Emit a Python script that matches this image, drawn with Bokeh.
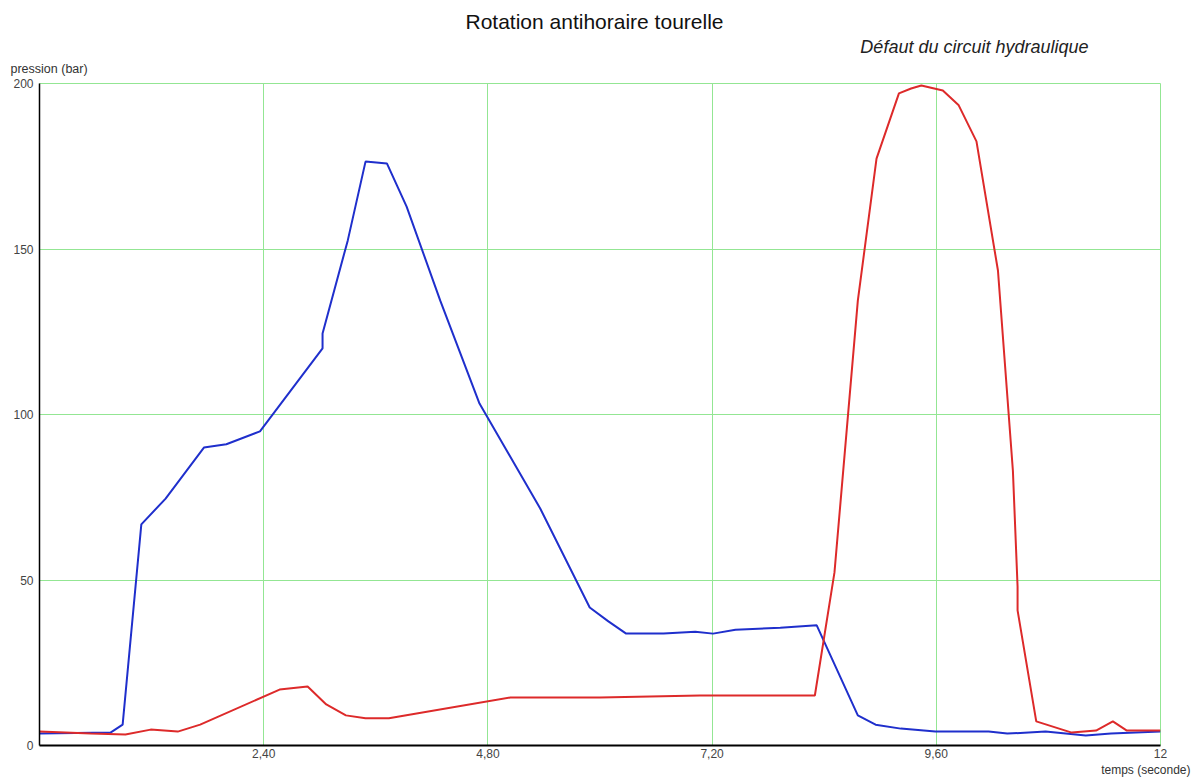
from bokeh.plotting import figure
from bokeh.models import Range1d, FixedTicker, Title
from bokeh.embed import file_html
from bokeh.resources import INLINE

# Data (time in seconds, pressure in bar)
blue_t = [0, 0.76, 0.89, 1.09, 1.35, 1.76, 2.0, 2.36, 3.03, 3.03, 3.30, 3.49, 3.72, 3.93,
          4.29, 4.71, 5.36, 5.89, 6.09, 6.28, 6.68, 7.02, 7.21, 7.45, 7.93, 8.32, 8.76,
          8.95, 9.22, 9.59, 10.16, 10.36, 10.77, 11.2, 11.47, 12.0]
blue_p = [3.6, 3.9, 6.3, 66.8, 74.6, 90, 91, 94.9, 120, 124.5, 152.6, 176.4, 175.8, 162.8,
          134.4, 103.3, 71.6, 41.7, 37.5, 33.8, 33.8, 34.4, 33.8, 35, 35.6, 36.3, 9.1,
          6.3, 5.1, 4.2, 4.2, 3.6, 4.2, 3.0, 3.6, 4.2]

red_t = [0, 0.55, 0.92, 1.19, 1.48, 1.72, 2.57, 2.87, 3.07, 3.28, 3.49, 3.74, 5.04, 6.0,
         7.07, 8.30, 8.51, 8.76, 8.96, 9.20, 9.33, 9.44, 9.67, 9.84, 10.03, 10.26, 10.42,
         10.47, 10.47, 10.67, 11.05, 11.31, 11.49, 11.64, 12.0]
red_p = [4.2, 3.6, 3.3, 4.8, 4.2, 6.3, 16.9, 17.8, 12.4, 9.1, 8.2, 8.2, 14.5, 14.5,
         15.1, 15.1, 52.3, 134.4, 177.3, 197, 198.5, 199.4, 197.9, 193.4, 182.5, 143.5, 83,
         48, 40.8, 7.3, 3.9, 4.5, 7.3, 4.5, 4.5]

x_ticks = [2.4, 4.8, 7.2, 9.6, 12]
x_tick_labels = ["2,40", "4,80", "7,20", "9,60", "12"]
y_ticks = [0, 50, 100, 150, 200]

title_text = "Rotation antihoraire tourelle"
subtitle_text = "Défaut du circuit hydraulique"
y_label = "pression (bar)"
x_label = "temps (seconde)"

FONT = "Liberation Sans"
GRID = "#93e693"

p = figure(width=1192, height=778, output_backend="svg", toolbar_location=None,
           x_range=Range1d(0, 12), y_range=Range1d(0, 200),
           min_border_left=39, min_border_right=32, min_border_top=83, min_border_bottom=33)
p.background_fill_color = "white"
p.border_fill_color = "white"
p.outline_line_color = GRID
p.outline_line_width = 1

p.xaxis.ticker = FixedTicker(ticks=x_ticks)
p.xaxis.major_label_overrides = {t: l for t, l in zip(x_ticks, x_tick_labels)}
p.yaxis.ticker = FixedTicker(ticks=y_ticks)
for ax in (p.xaxis, p.yaxis):
    ax.major_tick_out = 0
    ax.major_tick_in = 0
    ax.minor_tick_out = 0
    ax.minor_tick_in = 0
    ax.axis_line_color = "black"
    ax.major_label_text_font = FONT
    ax.major_label_text_font_size = "12px"
    ax.major_label_text_color = "#444444"
p.xaxis.axis_line_width = 2
p.xaxis.major_label_standoff = 3
p.yaxis.axis_line_width = 1.5
p.yaxis.major_label_standoff = 6

p.xgrid.ticker = FixedTicker(ticks=x_ticks)
p.ygrid.ticker = FixedTicker(ticks=y_ticks)
p.grid.grid_line_color = GRID
p.grid.grid_line_width = 1

p.line(blue_t, blue_p, line_color="#1f2fcc", line_width=2)
p.line(red_t, red_p, line_color="#dd2a2a", line_width=2)

# Titles stacked above the frame (first added = closest to the frame)
p.add_layout(Title(text=y_label, align="left", offset=-29, text_font=FONT,
                   text_font_size="12.5px", text_font_style="normal", text_color="#333333",
                   standoff=16), "above")
p.add_layout(Title(text=subtitle_text, align="right", offset=72, text_font=FONT,
                   text_font_size="18px", text_font_style="italic", text_color="#222222",
                   standoff=-10), "above")
p.add_layout(Title(text=title_text, align="left", offset=426, text_font=FONT,
                   text_font_size="21px", text_font_style="normal", text_color="#111111",
                   standoff=13), "above")
p.add_layout(Title(text=x_label, align="right", offset=-30, text_font=FONT,
                   text_font_size="12px", text_font_style="normal", text_color="#333333",
                   standoff=0), "below")

open("out.html", "w").write(file_html(p, INLINE))
